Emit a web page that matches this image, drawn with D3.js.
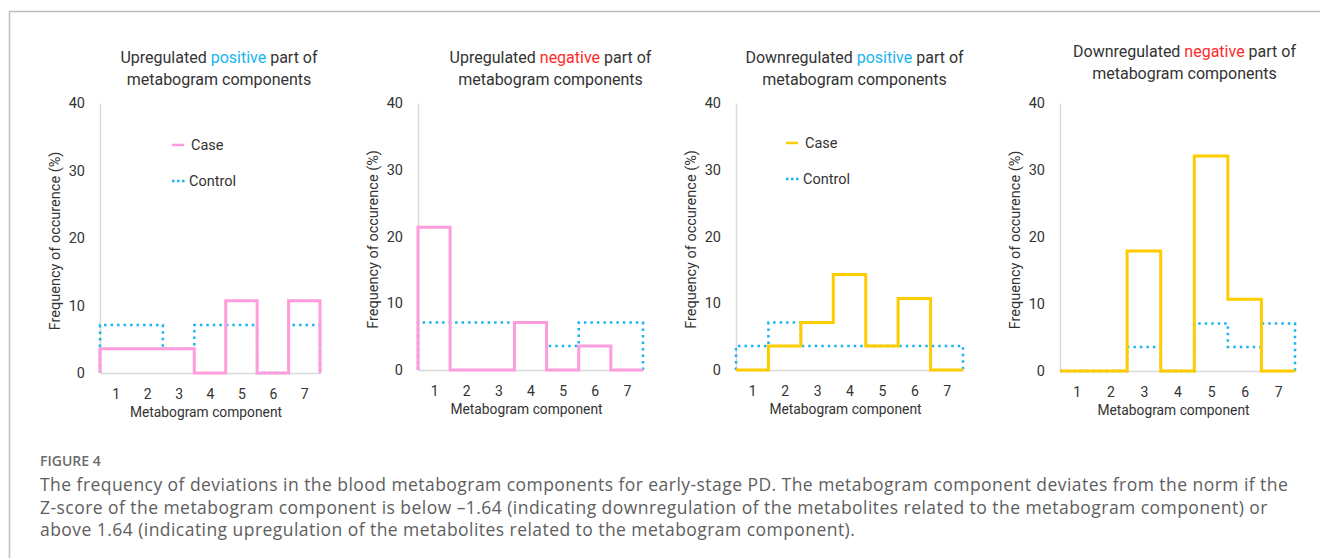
<!DOCTYPE html>
<html lang="en">
<head>
<meta charset="UTF-8">
<title>Figure 4</title>
<script src="https://d3js.org/d3.v7.min.js"></script>
<style>
  body { margin: 0; background: #fff; }
  svg text { font-family: Roboto, "DejaVu Sans", sans-serif; fill: #333; }
  svg text.caption { font-family: "Open Sans", "Noto Sans", sans-serif; fill: #5e5e5e; }
</style>
</head>
<body>
<svg id="fig" width="1320" height="558"></svg>
<script>
// data (percent)
const components = [1, 2, 3, 4, 5, 6, 7];
const yTicks = [0, 10, 20, 30, 40];

const upPosCase      = [3.6, 3.6, 3.6, 0, 10.7, 0, 10.7];
const upPosControl   = [7.1, 7.1, 3.6, 7.1, 7.1, 0, 7.1];
const upNegCase      = [21.4, 0, 0, 7.1, 0, 3.6, 0];
const upNegControl   = [7.1, 7.1, 7.1, 7.1, 3.6, 7.1, 7.1];
const downPosCase    = [0, 3.6, 7.1, 14.3, 3.6, 10.7, 0];
const downPosControl = [3.6, 7.1, 3.6, 3.6, 3.6, 3.6, 3.6];
const downNegCase    = [0, 0, 17.9, 0, 32.1, 10.7, 0];
const downNegControl = [0, 0, 3.6, 0, 7.1, 3.6, 7.1];

const captionLines = [
  "The frequency of deviations in the blood metabogram components for early-stage PD. The metabogram component deviates from the norm if the",
  "Z-score of the metabogram component is below \u20131.64 (indicating downregulation of the metabolites related to the metabogram component) or",
  "above 1.64 (indicating upregulation of the metabolites related to the metabogram component)."
];

const pink = "#ff9cdc", gold = "#ffcc00", blue = "#1ab4f0", red = "#ff2a2a";

const panels = [
  { t1: ["Upregulated ", "positive", " part of"], hl: blue, caseV: upPosCase, ctrlV: upPosControl, color: pink,
    left: 100, right: 320, y0: 373, y40: 103, titleY: 57, titleDx: 9, legend: { x: 172, y: 145 } },
  { t1: ["Upregulated ", "negative", " part of"], hl: red, caseV: upNegCase, ctrlV: upNegControl, color: pink,
    left: 418, right: 643, y0: 370, y40: 103, titleY: 57, titleDx: 20 },
  { t1: ["Downregulated ", "positive", " part of"], hl: blue, caseV: downPosCase, ctrlV: downPosControl, color: gold,
    left: 736, right: 963, y0: 370, y40: 103, titleY: 57, titleDx: 5, legend: { x: 786, y: 143 } },
  { t1: ["Downregulated ", "negative", " part of"], hl: red, caseV: downNegCase, ctrlV: downNegControl, color: gold,
    left: 1060, right: 1295, y0: 371, y40: 103, titleY: 51, titleDx: 7 }
];

const svg = d3.select("#fig");

// frame
svg.append("path")
  .attr("d", "M9.5,558 V11.5 H1320")
  .attr("fill", "none").attr("stroke", "#bdbdbd").attr("stroke-width", 1.5);

function stepPoints(vals) {
  const pts = [[0.5, 0]];
  vals.forEach((v, i) => pts.push([i + 0.5, v]));
  pts.push([vals.length + 0.5, vals[vals.length - 1]]);
  pts.push([vals.length + 0.5, 0]);
  return pts;
}

panels.forEach(p => {
  const g = svg.append("g");
  const x = d3.scaleLinear().domain([0.5, 7.5]).range([p.left, p.right]);
  const y = d3.scaleLinear().domain([0, 40]).range([p.y0, p.y40]);

  // y axis
  const ya = g.append("g").attr("transform", `translate(${p.left},0)`)
    .call(d3.axisLeft(y).tickValues(yTicks).tickSize(0).tickSizeOuter(0).tickPadding(15));
  ya.select(".domain").attr("stroke", "#d9d9d9").attr("stroke-width", 1.5);
  ya.selectAll("text").style("font-size", "14.5px");

  // x axis
  const xa = g.append("g").attr("transform", `translate(0,${p.y0})`)
    .call(d3.axisBottom(x).tickValues(components).tickFormat(d3.format("d"))
      .tickSize(0).tickSizeOuter(0).tickPadding(16));
  xa.select(".domain").attr("stroke", "#d9d9d9").attr("stroke-width", 1.5);
  xa.selectAll("text").style("font-size", "14px");

  g.append("text")
    .attr("x", (p.left + p.right) / 2 - 4).attr("y", p.y0 + 44)
    .attr("text-anchor", "middle").style("font-size", "13.8px")
    .text("Metabogram component");

  g.append("text")
    .attr("transform", `translate(${p.left - 40},${(p.y0 + p.y40) / 2 + 3}) rotate(-90)`)
    .attr("text-anchor", "middle").style("font-size", "14.5px")
    .text("Frequency of occurence (%)");

  // title
  const cx = (p.left + p.right) / 2 + p.titleDx;
  const tt = g.append("text").attr("x", cx).attr("y", p.titleY + 6)
    .attr("text-anchor", "middle").style("font-size", "16px");
  tt.append("tspan").text(p.t1[0]);
  tt.append("tspan").attr("fill", p.hl).text(p.t1[1]);
  tt.append("tspan").text(p.t1[2]);
  g.append("text").attr("x", cx).attr("y", p.titleY + 28)
    .attr("text-anchor", "middle").style("font-size", "16px")
    .text("metabogram components");

  const line = d3.line().x(d => x(d[0])).y(d => y(d[1])).curve(d3.curveStepAfter);

  g.append("path").attr("d", line(stepPoints(p.ctrlV)))
    .attr("fill", "none").attr("stroke", blue).attr("stroke-width", 2.5)
    .attr("stroke-dasharray", "2.5 4");
  g.append("path").attr("d", line(stepPoints(p.caseV)))
    .attr("fill", "none").attr("stroke", p.color).attr("stroke-width", 3);

  if (p.legend) {
    const L = p.legend;
    g.append("line").attr("x1", L.x).attr("x2", L.x + 12).attr("y1", L.y).attr("y2", L.y)
      .attr("stroke", p.color).attr("stroke-width", 2.5);
    g.append("text").attr("x", L.x + 19).attr("y", L.y + 5).style("font-size", "14.5px").text("Case");
    g.append("line").attr("x1", L.x).attr("x2", L.x + 13).attr("y1", L.y + 36).attr("y2", L.y + 36)
      .attr("stroke", blue).attr("stroke-width", 2.5).attr("stroke-dasharray", "2.5 2.5");
    g.append("text").attr("x", L.x + 17).attr("y", L.y + 41).style("font-size", "14.5px").text("Control");
  }
});

// caption
svg.append("text").attr("class", "caption").attr("x", 40).attr("y", 466)
  .style("font-size", "14px").style("font-weight", 600).style("fill", "#6b6b6b")
  .text("FIGURE 4");
captionLines.forEach((t, i) => {
  svg.append("text").attr("class", "caption").attr("x", 40).attr("y", 491 + i * 22.5)
    .style("font-size", "17.5px").style("letter-spacing", "0.45px").text(t);
});
</script>
</body>
</html>
